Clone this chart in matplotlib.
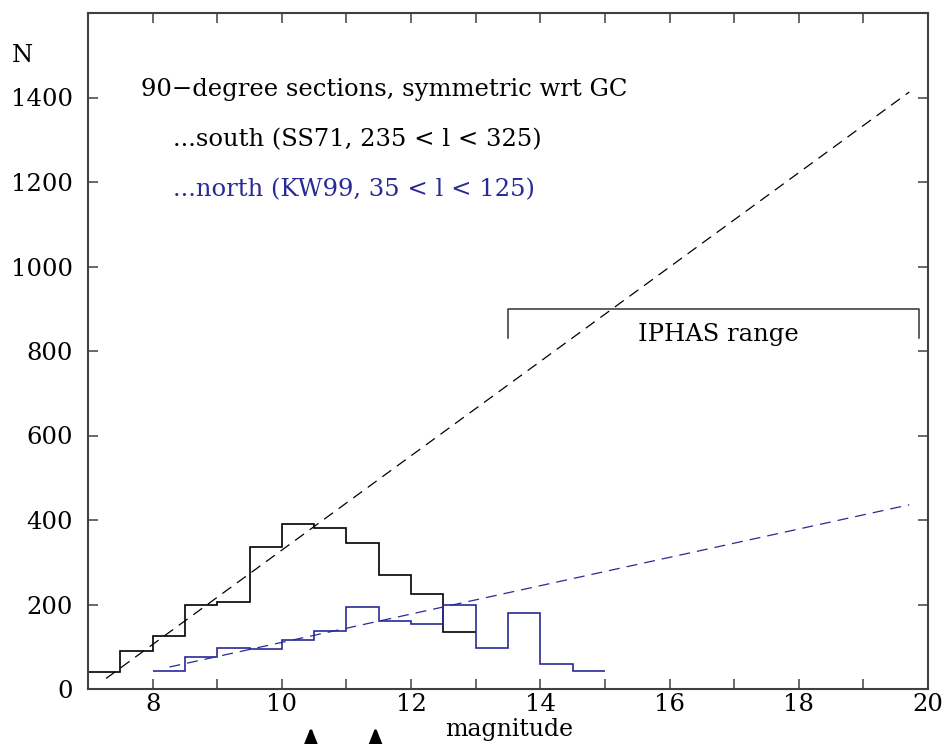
import numpy as np
import matplotlib
matplotlib.use("Agg")
import matplotlib.pyplot as plt

# histogram data (counts per 0.5 mag bin)
south_edges = np.arange(7.0, 13.01, 0.5)
south_counts = [40, 90, 125, 200, 205, 335, 390, 380, 345, 270, 225, 135]

north_edges = np.arange(8.0, 15.01, 0.5)
north_counts = [43, 75, 98, 95, 115, 137, 195, 160, 153, 200, 97, 180, 60, 43]

# dashed trend lines (endpoints)
south_fit_x = [7.28, 19.71]
south_fit_y = [25, 1413]
north_fit_x = [8.26, 19.71]
north_fit_y = [52, 436]

# IPHAS bracket
iphas_x = [13.5, 19.86]
iphas_y = 900
iphas_leg = 70

arrow_x = [10.45, 11.45]

BLUE = "#2a2a96"
plt.rcParams['font.family'] = ['DejaVu Serif']
FS = 17.5

fig = plt.figure(figsize=(9.48, 7.44), dpi=100)
ax = fig.add_axes([88/948, 55/744, 840/948, 676/744])

ax.stairs(south_counts, south_edges, baseline=None, color='black', lw=1.2)
ax.stairs(north_counts, north_edges, baseline=None, color=BLUE, lw=1.2)

ax.plot(south_fit_x, south_fit_y, color='black', lw=0.9, dashes=(8.8, 5.6))
ax.plot(north_fit_x, north_fit_y, color=BLUE, lw=0.9, dashes=(8.8, 5.6))

# IPHAS range bracket
ax.plot([iphas_x[0], iphas_x[0], iphas_x[1], iphas_x[1]],
        [iphas_y - iphas_leg, iphas_y, iphas_y, iphas_y - iphas_leg],
        color='#333333', lw=1.1)
ax.text(16.76, 838, "IPHAS range", fontsize=FS, ha='center', va='center')

ax.text(7.815, 1418, "90\u2212degree sections, symmetric wrt GC", fontsize=FS, va='center')
ax.text(8.32, 1300, "...south (SS71, 235 < l < 325)", fontsize=FS, va='center')
ax.text(8.32, 1181, "...north (KW99, 35 < l < 125)", fontsize=FS, va='center', color=BLUE)

ax.set_xlim(7.0, 19.93)
ax.set_ylim(0, 1600)
ax.set_xticks(np.arange(8, 21, 2))
ax.set_xticks(np.arange(7, 20, 1), minor=True)
ax.set_yticks(np.arange(0, 1401, 200))
ax.tick_params(which='both', direction='in', top=True, right=True, length=7,
               width=1.1, color='#404040', labelsize=FS)
ax.tick_params(axis='y', pad=11)
ax.tick_params(axis='x', pad=3)
for s in ax.spines.values():
    s.set_color('#404040')
    s.set_linewidth(1.5)

fig.text(22.5/948, 1 - 55/744, "N", fontsize=FS, ha='center', va='center')
fig.text(509/948, 1 - 736/744, "magnitude", fontsize=17, ha='center', va='baseline')

for xa in arrow_x:
    ax.annotate('', xy=(xa, 1 - 727/744), xytext=(xa, 0),
                xycoords=('data', 'figure fraction'),
                textcoords=('data', 'figure fraction'),
                arrowprops=dict(arrowstyle='-|>,head_width=0.22,head_length=0.55',
                                mutation_scale=20, color='black', lw=2.2,
                                shrinkA=0, shrinkB=0),
                annotation_clip=False)

fig.savefig("out.png", dpi=100)
